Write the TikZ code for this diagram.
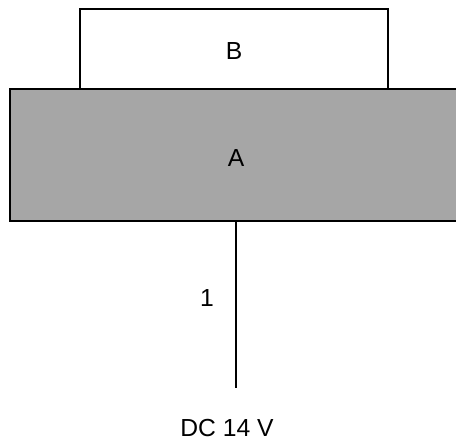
\documentclass[tikz,border=0pt]{standalone}
\usepackage{fontspec}
\setmainfont{Liberation Sans}
\definecolor{boxgray}{HTML}{A6A6A6}
\begin{document}
\begin{tikzpicture}[x=0.75pt,y=-0.75pt,
  frame/.style={draw=black,line width=1.3pt},
  lbl/.style={font=\fontsize{18.5}{20}\selectfont,inner sep=0pt}]
\useasboundingbox (0,0) rectangle (456,445);
\clip (0,0) rectangle (456,445);
\draw[frame,fill=white] (80,9) rectangle (388,89);
\node[lbl] (B) at (234,51) {B};
\draw[frame,fill=boxgray] (10,89) rectangle (475,221);
\node[lbl] (A) at (236,158) {A};
\coordinate (top) at (236,221);
\coordinate (bot) at (236,388);
\draw[line width=1.2pt] (top) -- (bot);
\node[lbl] (one) at (207,298) {1};
\node[lbl] (dc) at (227,428) {DC 14 V};
\end{tikzpicture}
\end{document}
